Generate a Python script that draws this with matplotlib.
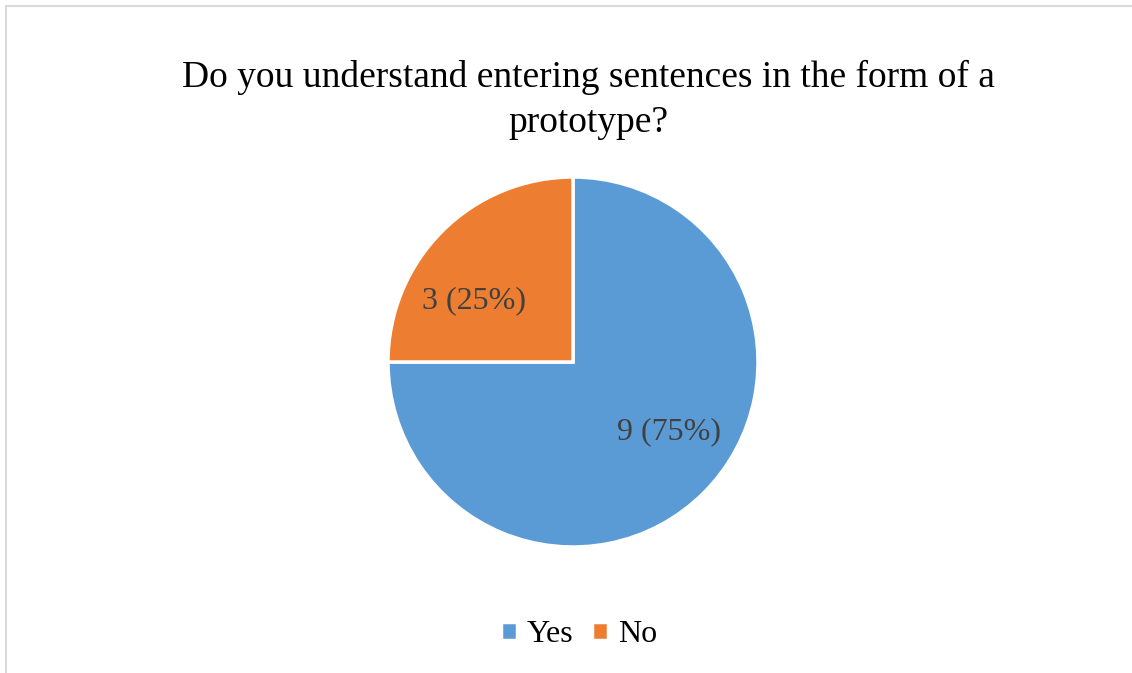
import matplotlib
matplotlib.use("Agg")
import matplotlib.pyplot as plt
from matplotlib.patches import Rectangle
import numpy as np

categories = ["Yes", "No"]
values = [9, 3]
colors = ["#5B9BD5", "#ED7D31"]
title = "Do you understand entering sentences in the form of a\nprototype?"

W, H = 1132, 673
plt.rcParams['font.family'] = ['Liberation Serif', 'DejaVu Serif']
fig = plt.figure(figsize=(W/100, H/100), dpi=100)
ax = fig.add_axes([0, 0, 1, 1])
ax.set_xlim(0, W)
ax.set_ylim(0, H)
ax.set_aspect('equal')
ax.axis('off')

# chart frame
ax.add_patch(Rectangle((5.5, -20), W + 40, H - 6 + 20, fill=False,
                       edgecolor="#d9d9d9", linewidth=1.5))

total = sum(values)
def fmt(p):
    return f"{round(p*total/100)} ({p:.0f}%)"

cx, cy, r = 573, H - 362, 185
wedges, texts, autotexts = ax.pie(values, colors=colors, startangle=90, counterclock=False,
       center=(cx, cy), radius=r, autopct=fmt, pctdistance=0.64,
       wedgeprops=dict(edgecolor="white", linewidth=2.5),
       textprops=dict(fontsize=23, color="#404040"))
ax.set_xlim(0, W)
ax.set_ylim(0, H)
ax.axis('off')

# best-fit style label placement (angle in degrees, fraction of radius)
label_pos = [(-36, 0.64), (148, 0.63)]
for t, (ang, frac) in zip(autotexts, label_pos):
    a = np.deg2rad(ang)
    t.set_position((cx + frac * r * np.cos(a), cy + frac * r * np.sin(a)))

fig.text(588/W, 1 - 100/H, title, ha="center", va="center", fontsize=27,
         color="black", linespacing=1.38)

leg = fig.legend(wedges, categories, loc="center", bbox_to_anchor=(579/W, 1 - 635/H),
                 ncol=2, frameon=False, fontsize=23, handlelength=0.5, handleheight=0.5,
                 handletextpad=0.3, columnspacing=0.6)

fig.savefig("out.png", dpi=100)
